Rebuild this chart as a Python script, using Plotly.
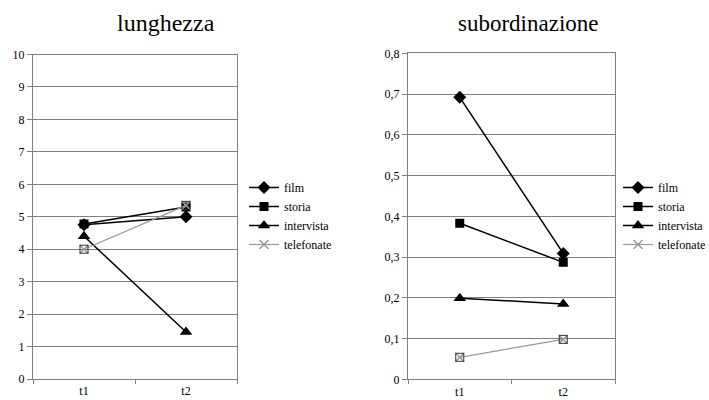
import plotly.graph_objects as go

# Time points and series values
periods = ["t1", "t2"]
series_names = ["film", "storia", "intervista", "telefonate"]

lunghezza_film = [4.75, 5.0]
lunghezza_storia = [4.78, 5.3]
lunghezza_intervista = [4.4, 1.45]
lunghezza_telefonate = [4.0, 5.35]

subord_film = [0.692, 0.309]
subord_storia = [0.383, 0.287]
subord_intervista = [0.199, 0.185]
subord_telefonate = [0.054, 0.098]

W, H = 709, 400
SERIF = "Liberation Serif"
GRID = "#7f7f7f"

styles = {
    "film": dict(color="black", width=1.5, symbol="diamond", size=10),
    "storia": dict(color="black", width=1.5, symbol="square", size=9),
    "intervista": dict(color="black", width=1.5, symbol="triangle-up", size=11),
    "telefonate": dict(color="#999999", width=1.2, symbol="x-thin-open", size=9),
}

fig = go.Figure()


def add_panel(values, xa, ya, legend):
    for name, vals in zip(series_names, values):
        st = styles[name]
        fig.add_trace(go.Scatter(
            x=periods, y=vals, name=name, mode="lines+markers",
            xaxis=xa, yaxis=ya, legend=legend,
            line=dict(color=st["color"], width=st["width"]),
            marker=dict(symbol=st["symbol"], size=st["size"], color=st["color"],
                        line=dict(color="#555555" if name == "telefonate" else st["color"],
                                  width=1.5 if name == "telefonate" else 0)),
        ))
        if name == "telefonate":
            # square outline drawn behind the cross markers
            fig.add_trace(go.Scatter(
                x=periods, y=vals, mode="markers", showlegend=False,
                xaxis=xa, yaxis=ya, hoverinfo="skip",
                marker=dict(symbol="square-open", size=8, color="#333333",
                            line=dict(width=1)),
            ))


add_panel([lunghezza_film, lunghezza_storia, lunghezza_intervista, lunghezza_telefonate],
          "x", "y", "legend")
add_panel([subord_film, subord_storia, subord_intervista, subord_telefonate],
          "x2", "y2", "legend2")

xcommon = dict(type="category", range=[-0.5, 1.5], tickson="boundaries",
               ticks="outside", ticklen=4, tickcolor=GRID, showgrid=False,
               showline=True, linecolor=GRID, linewidth=1, mirror=True,
               automargin=False, ticklabelstandoff=1,
               tickfont=dict(family=SERIF, size=12, color="black"), fixedrange=True)
ycommon = dict(ticks="outside", ticklen=5, tickcolor=GRID, showgrid=True,
               gridcolor=GRID, gridwidth=1, showline=True, linecolor=GRID,
               linewidth=1, mirror=True, zeroline=False, automargin=False,
               tickfont=dict(family=SERIF, size=12, color="black"), fixedrange=True)

legend_common = dict(font=dict(family=SERIF, size=12, color="black"),
                     bgcolor="rgba(0,0,0,0)", itemwidth=30, tracegroupgap=0,
                     xanchor="left", yanchor="top")

fig.update_layout(
    width=W, height=H,
    margin=dict(l=0, r=0, t=0, b=0, autoexpand=False),
    paper_bgcolor="white", plot_bgcolor="white",
    separators=",.",
    font=dict(family=SERIF),
    xaxis=dict(domain=[33 / W, 237 / W], anchor="y", **xcommon),
    yaxis=dict(domain=[1 - 379 / H, 1 - 54.5 / H], anchor="x",
               range=[0, 10], dtick=1, **ycommon),
    xaxis2=dict(domain=[408 / W, 615 / W], anchor="y2", **xcommon),
    yaxis2=dict(domain=[1 - 379.3 / H, 1 - 53.3 / H], anchor="x2",
                range=[0, 0.8], dtick=0.1, **ycommon),
    legend=dict(x=244 / W, y=1 - 173 / H, **legend_common),
    legend2=dict(x=618 / W, y=1 - 173 / H, **legend_common),
    annotations=[
        dict(text="lunghezza", x=166 / W, y=1 - 23 / H, xref="paper", yref="paper",
             showarrow=False, xanchor="center", yanchor="middle",
             font=dict(family=SERIF, size=24, color="black")),
        dict(text="subordinazione", x=528 / W, y=1 - 23 / H, xref="paper", yref="paper",
             showarrow=False, xanchor="center", yanchor="middle",
             font=dict(family=SERIF, size=23, color="black")),
    ],
    showlegend=True,
)

fig.write_html("out.html")
